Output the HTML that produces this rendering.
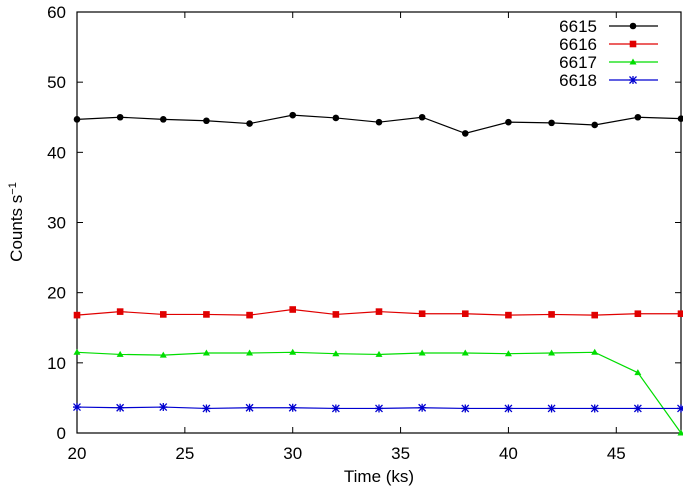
<!DOCTYPE html>
<html><head><meta charset="utf-8"><style>
body{margin:0;background:#fff;}
svg{display:block;font-family:"Liberation Sans",sans-serif;}
</style></head><body>
<svg id="c" width="683" height="489"></svg>
<script>
const times=[20,22,24,26,28,30,32,34,36,38,40,42,44,46,48];
const s6615=[44.7,45.0,44.7,44.5,44.1,45.3,44.9,44.3,45.0,42.7,44.3,44.2,43.9,45.0,44.8];
const s6616=[16.8,17.3,16.9,16.9,16.8,17.6,16.9,17.3,17.0,17.0,16.8,16.9,16.8,17.0,17.0];
const s6617=[11.5,11.2,11.1,11.4,11.4,11.5,11.3,11.2,11.4,11.4,11.3,11.4,11.5,8.6,0];
const s6618=[3.7,3.6,3.7,3.5,3.6,3.6,3.5,3.5,3.6,3.5,3.5,3.5,3.5,3.5,3.5];
const xTicks=[20,25,30,35,40,45];
const yTicks=[0,10,20,30,40,50,60];
const seriesNames=["6615","6616","6617","6618"];
const L=77,R=681,T=12,B=433;
const X=v=>L+(v-20)/28*(R-L);
const Y=v=>B-v/60*(B-T);
const NS="http://www.w3.org/2000/svg";
const svg=document.getElementById('c');
function mk(t,a,p){const e=document.createElementNS(NS,t);for(const k in a)e.setAttribute(k,a[k]);(p||svg).appendChild(e);return e;}
const fr=mk('rect',{x:L,y:T,width:R-L,height:B-T,fill:'none',stroke:'#000','stroke-width':1.2});


xTicks.forEach(v=>{
  mk('line',{x1:X(v),x2:X(v),y1:B,y2:B-6,stroke:'#000'});
  mk('line',{x1:X(v),x2:X(v),y1:T,y2:T+6,stroke:'#000'});
  const t=mk('text',{x:X(v),y:B+26,'text-anchor':'middle','font-size':17});t.textContent=v;
  
  
});
yTicks.forEach(v=>{
  mk('line',{x1:L,x2:L+6,y1:Y(v),y2:Y(v),stroke:'#000'});
  mk('line',{x1:R,x2:R-6,y1:Y(v),y2:Y(v),stroke:'#000'});
  const t=mk('text',{x:L-11,y:Y(v)+6,'text-anchor':'end','font-size':17});t.textContent=v;
  
  
});
const xt=mk('text',{x:(L+R)/2,y:482,'text-anchor':'middle','font-size':17});xt.textContent='Time (ks)';


const yt=mk('text',{x:0,y:0,'text-anchor':'middle','font-size':17,transform:'translate(22,222) rotate(-90)'});
yt.innerHTML='Counts s<tspan dy="-6" font-size="11">−1</tspan>';


const colors=['#000','#e00000','#00dd00','#0000d0'];
const data=[s6615,s6616,s6617,s6618];
function marker(k,x,y,g){
  const c=colors[k];
  if(k===0)mk('circle',{cx:x,cy:y,r:3.3,fill:c},g);
  else if(k===1)mk('rect',{x:x-3.3,y:y-3.3,width:6.6,height:6.6,fill:c},g);
  else if(k===2)mk('polygon',{points:`${x},${y-3.5} ${x-3.5},${y+2.5} ${x+3.5},${y+2.5}`,fill:c},g);
  else{mk('path',{d:`M${x-3.5} ${y-3.5}L${x+3.5} ${y+3.5}M${x-3.5} ${y+3.5}L${x+3.5} ${y-3.5}M${x} ${y-4}V${y+4}M${x-4} ${y}H${x+4}`,stroke:c,'stroke-width':1.3},g);}
}
data.forEach((s,k)=>{
  const g=mk('g',{});
  
  
  mk('polyline',{points:s.map((v,i)=>X(times[i])+','+Y(v)).join(' '),fill:'none',stroke:colors[k],'stroke-width':1.2},g);
  s.forEach((v,i)=>marker(k,X(times[i]),Y(v),g));
  const ly=26+k*18;
  const lg=mk('g',{});
  
  
  const lt=mk('text',{x:597,y:ly+6,'text-anchor':'end','font-size':17},lg);lt.textContent=seriesNames[k];
  mk('line',{x1:609,x2:658,y1:ly,y2:ly,stroke:colors[k],'stroke-width':1.2},lg);
  marker(k,633,ly,lg);
});
</script>
</body></html>
